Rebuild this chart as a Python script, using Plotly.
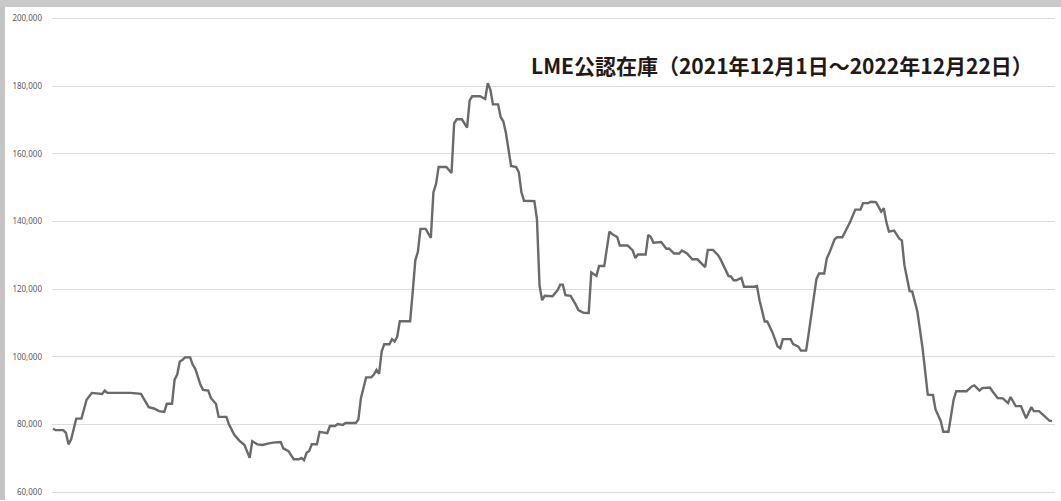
import pandas as pd
import plotly.graph_objects as go

# Days since 2021-12-01 (line vertices) and LME warehouse stock (tonnes)
day_offset = [0,1,4,5,6,7,9,11,13,15,19,20,21,30,34,37,39,41,43,44,46,47,48,49,50,51,53,54,55,57,58,60,61,63,64,67,68,70,72,74,76,77,79,81,83,85,88,89,91,93,95,96,97,98,99,100,102,103,106,107,109,110,112,113,117,118,119,120,121,123,124,125,126,127,128,130,131,132,133,134,138,139,140,141,142,144,146,147,148,149,152,154,155,156,158,160,161,162,165,167,168,169,170,172,173,174,175,177,179,180,181,182,186,187,188,189,190,193,195,196,197,198,200,202,203,205,207,208,209,210,211,213,215,216,218,219,222,224,225,226,229,230,231,232,235,236,237,238,240,242,243,245,247,249,252,253,255,257,258,261,262,263,264,266,267,271,272,273,275,276,278,280,281,282,285,286,288,289,291,292,294,295,296,298,299,300,302,303,305,306,308,310,312,313,315,316,318,320,321,322,323,325,327,328,329,331,332,334,336,338,340,341,343,344,346,348,349,353,355,356,358,359,361,362,363,365,367,369,370,372,374,376,378,379,381,383,385,386]

stock = [78700,78300,78300,77500,74100,75500,81700,81700,87300,89300,89000,90000,89300,89300,89000,85100,84700,83900,83700,86100,86100,93200,94700,98600,99000,99800,99800,97600,96400,91700,90200,90000,87800,86000,82200,82200,80000,77000,75200,73900,70100,75000,74100,73900,74300,74600,74800,72900,72100,69700,69700,70100,69400,71600,72100,74100,74100,77800,77400,79500,79500,80100,79800,80400,80400,81400,87800,91300,93900,93900,94700,96100,94900,101500,103700,103700,105200,104500,105900,110500,110500,119200,128500,131000,137800,137800,135100,148600,151000,156100,156100,154300,169000,170200,170200,167700,175800,177000,177000,176200,180900,179000,174600,174600,170800,169600,166200,156400,156100,154500,148600,146100,146000,140700,121100,116700,118000,117900,119700,121300,121300,118200,118000,115400,113800,113000,112900,124900,124300,123900,126800,126800,137000,136300,135400,132900,132900,131400,129200,130200,130200,136000,135400,133700,133900,132900,131900,132000,130500,130500,131400,130500,128800,128800,126500,131600,131600,130000,128700,123900,123700,122600,122600,123300,120700,120700,120900,116700,110400,110400,107200,103000,102500,105200,105200,103700,103000,101800,101800,106900,118000,123000,124600,124600,129100,130700,134700,135300,135300,136700,139800,143500,143500,145400,145400,145800,145700,142900,143900,139800,137000,137300,134900,134400,127000,119400,119300,113300,102500,88800,88700,84400,81000,77800,77800,87300,89800,89800,91200,91500,90000,90700,90700,90900,89800,87800,87700,86300,88100,85400,85400,81800,85100,83900,83900,82400,81100,81000]

y_ticks = [60000, 80000, 100000, 120000, 140000, 160000, 180000, 200000]
y_tick_labels = ["60,000", "80,000", "100,000", "120,000", "140,000", "160,000", "180,000", "200,000"]
title_text = "LME公認在庫（2021年12月1日～2022年12月22日）"

start = pd.Timestamp("2021-12-01")
dates = [start + pd.Timedelta(days=d) for d in day_offset]

fig = go.Figure()
fig.add_trace(go.Scatter(
    x=dates, y=stock, mode="lines",
    line=dict(color="#6a6a6a", width=2.4),
    hoverinfo="skip", showlegend=False,
))

W, H = 1061, 501
ml, mr, mt, mb = 52, 6, 16, 4
pw, ph = W - ml - mr, H - mt - mb

def px_x(p):
    return (p - ml) / pw

def px_y(p):
    return (H - mb - p) / ph

fig.update_layout(
    width=W, height=H,
    margin=dict(l=ml, r=mr, t=mt, b=mb),
    paper_bgcolor="white",
    plot_bgcolor="white",
    showlegend=False,
    xaxis=dict(
        range=[start - pd.Timedelta(hours=9), start + pd.Timedelta(days=387, hours=4)],
        showgrid=False, showticklabels=False, ticks="", zeroline=False, showline=False,
    ),
    yaxis=dict(
        range=[59412, 200734],
        tickvals=y_ticks, ticktext=y_tick_labels,
        showgrid=True, gridcolor="#dcdcdc", gridwidth=1.2,
        zeroline=False, showline=False, ticks="",
        ticklabelstandoff=9,
        tickfont=dict(family="Noto Sans", size=8, color="#595959"),
    ),
    shapes=[
        dict(type="rect", xref="paper", yref="paper", layer="below",
             x0=px_x(0), x1=px_x(5), y0=px_y(H + 2), y1=px_y(0),
             fillcolor="#c4c4c4", line=dict(width=0)),
        dict(type="rect", xref="paper", yref="paper", layer="below",
             x0=px_x(0), x1=px_x(W + 2), y0=px_y(7), y1=px_y(0),
             fillcolor="#c9c9c9", line=dict(width=0)),
    ],
    annotations=[
        dict(text="<b>" + title_text + "</b>", xref="paper", yref="paper",
             x=px_x(529), y=px_y(65), xanchor="left", yanchor="middle",
             showarrow=False,
             font=dict(family="Noto Sans CJK JP", size=21, color="#231815")),
    ],
)

fig.write_html(
    "out.html",
    config={"displayModeBar": False},
    post_script="document.body.style.margin='0';document.body.style.overflow='hidden';",
)
